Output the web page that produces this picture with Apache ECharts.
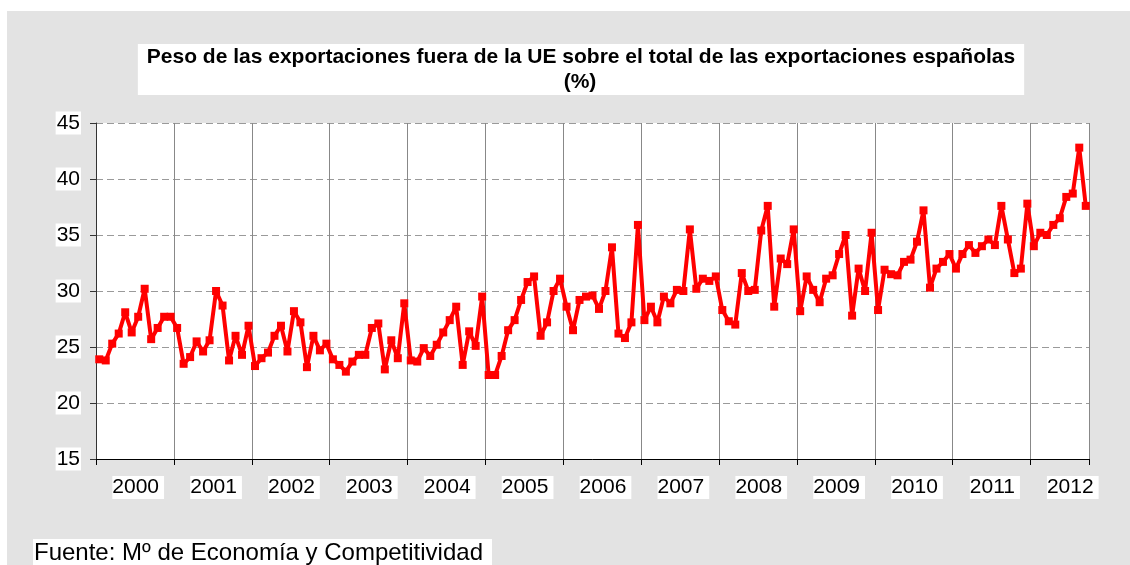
<!DOCTYPE html>
<html lang="es">
  <head>
    <meta charset="UTF-8" />
    <title>Peso de las exportaciones fuera de la UE</title>
    <script src="https://cdn.jsdelivr.net/npm/echarts@6/dist/echarts.min.js"></script>
    <style>
      body {
        margin: 0;
        padding: 0;
        background: #fff;
      }

      #main {
        position: absolute;
        left: 7px;
        top: 11px;
        width: 1123px;
        height: 554px;
      }
    </style>
  </head>

  <body>
    <div id="main"></div>
    <script>
      const years = ["2000", "2001", "2002", "2003", "2004", "2005", "2006", "2007", "2008", "2009", "2010", "2011", "2012"];
      // one value per month, Jan 2000 - Sep 2012 (%)
      const v2000 = [23.9, 23.8, 25.3, 26.2, 28.1, 26.3, 27.7, 30.2, 25.7, 26.7, 27.7, 27.7];
      const v2001 = [26.7, 23.5, 24.1, 25.5, 24.6, 25.6, 30.0, 28.7, 23.8, 26.0, 24.3, 26.9];
      const v2002 = [23.3, 24.0, 24.5, 26.0, 26.9, 24.6, 28.2, 27.2, 23.2, 26.0, 24.7, 25.3];
      const v2003 = [23.9, 23.4, 22.8, 23.7, 24.3, 24.3, 26.7, 27.1, 23.0, 25.6, 24.0, 28.9];
      const v2004 = [23.8, 23.7, 24.9, 24.2, 25.2, 26.3, 27.4, 28.6, 23.4, 26.4, 25.1, 29.5];
      const v2005 = [22.5, 22.5, 24.2, 26.5, 27.4, 29.2, 30.8, 31.3, 26.0, 27.2, 30.0, 31.1];
      const v2006 = [28.6, 26.5, 29.2, 29.5, 29.6, 28.4, 30.0, 33.9, 26.2, 25.8, 27.2, 35.9];
      const v2007 = [27.4, 28.6, 27.2, 29.5, 28.9, 30.1, 30.0, 35.5, 30.2, 31.1, 30.9, 31.3];
      const v2008 = [28.3, 27.3, 27.0, 31.6, 30.0, 30.1, 35.4, 37.6, 28.6, 32.9, 32.4, 35.5];
      const v2009 = [28.2, 31.3, 30.1, 29.0, 31.1, 31.4, 33.3, 35.0, 27.8, 32.0, 30.0, 35.2];
      const v2010 = [28.3, 31.9, 31.5, 31.4, 32.6, 32.8, 34.4, 37.2, 30.3, 32.0, 32.6, 33.3];
      const v2011 = [32.0, 33.3, 34.1, 33.4, 34.0, 34.6, 34.1, 37.6, 34.6, 31.6, 32.0, 37.8];
      const v2012 = [34.0, 35.2, 35.0, 35.9, 36.5, 38.4, 38.7, 42.8, 37.6];
      const yTicks = [15, 45, 5]; // min, max, step

      const byYear = [v2000, v2001, v2002, v2003, v2004, v2005, v2006, v2007, v2008, v2009, v2010, v2011, v2012];
      const months = [];
      const values = [];
      byYear.forEach((list, y) => {
        list.forEach((v, m) => {
          months.push(years[y] + "-" + String(m + 1).padStart(2, "0"));
          values.push(v);
        });
      });

      const font = "'Liberation Sans', Arial, sans-serif";
      const yearStart = (index) => index % 12 === 0;

      const chart = echarts.init(document.getElementById("main"));
      chart.setOption({
        backgroundColor: "#e3e3e3",
        animation: false,
        title: [
          {
            // first line + white box covering both lines
            text: "Peso de las exportaciones fuera de la UE sobre el total de las exportaciones españolas",
            left: 565,
            top: 33,
            textAlign: "center",
            backgroundColor: "#fff",
            padding: [1, 9, 26, 9],
            textStyle: {
              fontFamily: font,
              fontSize: 21,
              fontWeight: "bold",
              color: "#000",
              lineHeight: 24,
            },
          },
          {
            text: "(%)",
            left: 573,
            top: 59,
            textAlign: "center",
            padding: 0,
            textStyle: {
              fontFamily: font,
              fontSize: 21,
              fontWeight: "bold",
              color: "#000",
              lineHeight: 24,
            },
          },
          {
            text: "Fuente: Mº de Economía y Competitividad",
            left: 26,
            top: 528,
            backgroundColor: "#fff",
            padding: [1, 9, 1, 1],
            textStyle: {
              fontFamily: font,
              fontSize: 24,
              fontWeight: "normal",
              color: "#000",
              lineHeight: 26,
            },
          },
        ],
        grid: {
          left: 89,
          right: 41,
          top: 112,
          bottom: 106,
          show: true,
          backgroundColor: "#fff",
          borderWidth: 0,
        },
        xAxis: {
          type: "category",
          data: months,
          boundaryGap: true,
          axisLine: { lineStyle: { color: "#000", width: 1 } },
          axisTick: {
            show: true,
            interval: (index) => yearStart(index),
            length: 6,
            lineStyle: { color: "#000" },
          },
          splitLine: {
            show: true,
            interval: (index) => yearStart(index),
            lineStyle: { color: "#888", width: 1 },
          },
          axisLabel: {
            interval: (index) => index % 12 === 6,
            formatter: (value) => value.slice(0, 4),
            fontFamily: font,
            fontSize: 21,
            color: "#000",
            margin: 17,
            backgroundColor: "#fff",
            padding: [1, 5, 1, 0],
          },
        },
        yAxis: {
          type: "value",
          min: yTicks[0],
          max: yTicks[1],
          interval: yTicks[2],
          axisLine: { show: true, lineStyle: { color: "#333", width: 1 } },
          axisTick: { show: true, length: 6, lineStyle: { color: "#333" } },
          splitLine: {
            lineStyle: { color: "#9a9a9a", width: 1, type: [7, 4] },
          },
          axisLabel: {
            fontFamily: font,
            fontSize: 21,
            color: "#000",
            margin: 15,
            backgroundColor: "#fff",
            padding: [1, 1, 1, 1],
          },
        },
        series: [
          {
            name: "Peso UE",
            type: "line",
            data: values,
            symbol: "rect",
            symbolSize: 8,
            showAllSymbol: true,
            lineStyle: { color: "#ff0000", width: 4 },
            itemStyle: { color: "#ff0000" },
          },
        ],
      });
    </script>
  </body>
</html>
